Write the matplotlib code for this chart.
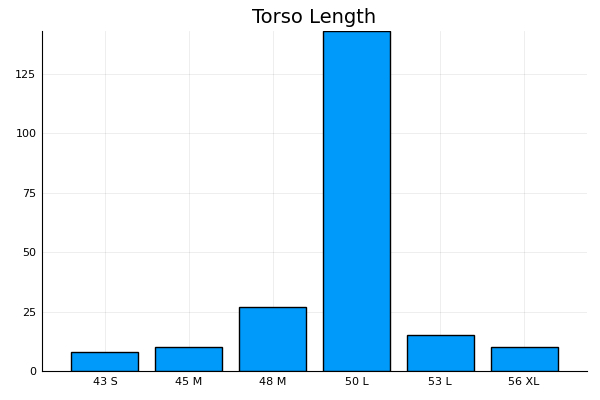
import numpy as np
import matplotlib.pyplot as plt

sizes = ["43 S", "45 M", "48 M", "50 L", "53 L", "56 XL"]
counts = [8, 10, 27, 143, 15, 10]

fig = plt.figure(figsize=(6, 4), dpi=100)
ax = fig.add_axes([42 / 600, 1 - 371 / 400, (587 - 42) / 600, (371 - 31) / 400])

x = np.arange(len(sizes))
ax.bar(x, counts, width=0.8, color="#009AFA", edgecolor="black", linewidth=1, zorder=3)

ax.set_xlim(-0.75, len(sizes) - 0.25)
ax.set_ylim(0, max(counts))
ax.set_xticks(x)
ax.set_xticklabels(sizes)
ax.set_yticks([0, 25, 50, 75, 100, 125])
ax.tick_params(labelsize=8, length=0, pad=4)
ax.grid(True, color="black", alpha=0.08, linewidth=0.6)
ax.set_axisbelow(True)
for s in ["top", "right"]:
    ax.spines[s].set_visible(False)
ax.set_title("Torso Length", fontsize=14)

fig.savefig("out.png", dpi=100)
